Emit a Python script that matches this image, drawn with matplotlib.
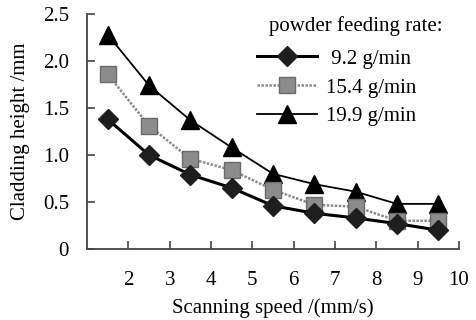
import matplotlib.pyplot as plt

# scanning speed (mm/s) and cladding height (mm) per powder feeding rate
speed = [1.5, 2.5, 3.5, 4.5, 5.5, 6.5, 7.5, 8.5, 9.5]
h_92 = [1.38, 1.00, 0.79, 0.65, 0.46, 0.38, 0.33, 0.27, 0.20]
h_154 = [1.86, 1.31, 0.96, 0.84, 0.63, 0.47, 0.45, 0.30, 0.30]
h_199 = [2.28, 1.74, 1.37, 1.08, 0.80, 0.69, 0.61, 0.48, 0.48]
labels = [' 9.2 g/min', '15.4 g/min', '19.9 g/min']

x_ticks = [2, 3, 4, 5, 6, 7, 8, 9, 10]
y_ticks = [0, 0.5, 1.0, 1.5, 2.0, 2.5]
y_ticklabels = ['0', '0.5', '1.0', '1.5', '2.0', '2.5']

plt.rcParams['font.family'] = ['Liberation Serif', 'DejaVu Serif']

fig = plt.figure(figsize=(4.76, 3.2), dpi=100)
ax = fig.add_axes([0.183, 0.222, 0.781, 0.734])

# series
ax.plot(speed, h_92, color='black', lw=2.2, marker='D', ms=10,
        mfc='#1e1e1e', mec='#1e1e1e', label=labels[0], zorder=3)
ax.plot(speed, h_154, color='#8a8a8a', lw=1.8, ls=(0, (1, 0.6)), marker='s', ms=11,
        mfc='#8c8c8c', mec='#6a6a6a', label=labels[1], zorder=2)
ax.plot(speed, h_199, color='black', lw=1.3, marker='^', ms=13,
        mfc='black', mec='black', label=labels[2], zorder=1)

ax.set_xlim(1, 10)
ax.set_ylim(0, 2.5)
ax.set_xticks(x_ticks)
ax.set_yticks(y_ticks)
ax.set_yticklabels(y_ticklabels)
ax.tick_params(direction='in', length=6, width=1.2, color='#444444',
               labelsize=15)
ax.tick_params(axis='x', pad=16)
ax.tick_params(axis='y', pad=13)

for side in ['top', 'right']:
    ax.spines[side].set_visible(False)
for side in ['left', 'bottom']:
    ax.spines[side].set_color('#444444')
    ax.spines[side].set_linewidth(1.3)

ax.set_xlabel('Scanning speed /(mm/s)', fontsize=15, labelpad=6)
ax.set_ylabel('Cladding height /mm', fontsize=15, labelpad=9)

# legend title drawn on its own, entries below it
fig.text(269 / 476, 1 - 26 / 320, 'powder feeding rate:', fontsize=15,
         ha='left', va='center')
ax.legend(loc='upper left', frameon=False, fontsize=15,
          bbox_to_anchor=(257 / 476, 1 - 49 / 320),
          bbox_transform=fig.transFigure, borderpad=0, borderaxespad=0,
          handlelength=2.9, handletextpad=0.4, labelspacing=0.45)

plt.savefig('out.png', dpi=100)
